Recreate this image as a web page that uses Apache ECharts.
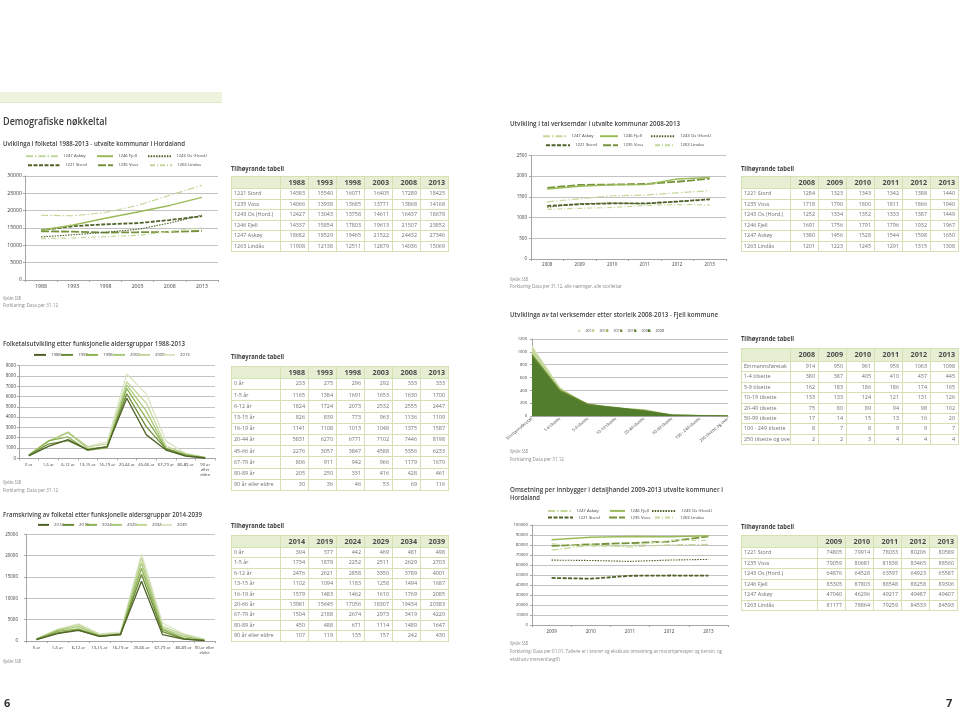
<!DOCTYPE html>
<html>
<head>
<meta charset="utf-8">
<script src="https://cdn.jsdelivr.net/npm/echarts@6.0.0/dist/echarts.min.js"></script>
<style>
html,body{margin:0;padding:0;background:#ffffff;}
#page{position:relative;width:960px;height:721px;overflow:hidden;background:#fff;}
#chart{position:absolute;left:0;top:0;width:960px;height:721px;}
.t{position:absolute;white-space:nowrap;transform-origin:0 50%;font-family:"Open Sans",sans-serif;}
table.tb{position:absolute;border-collapse:collapse;table-layout:fixed;font-family:"Open Sans",sans-serif;}
table.tb td, table.tb th{border:1px solid #d3e1b5;padding:0 3px 0 2px;overflow:hidden;white-space:nowrap;line-height:1;}
table.tb th{background:#e6eed3;font-weight:700;color:#4a4a4a;text-align:right;font-size:7.2px;}
table.tb td{background:#fff;color:#707070;text-align:right;font-size:5.4px;}
table.tb td.n{text-align:left;}
</style>
</head>
<body>
<div id="page"><div id="chart"></div></div>
<script>
// ---------------- DATA ----------------
// Folketal 1988-2013
const folkYears  = ['1988','1993','1998','2003','2008','2013'];
const folkStord  = [14383,15540,16071,16405,17289,18425];
const folkVoss   = [14066,13938,13685,13771,13868,14168];
const folkOs     = [12427,13043,13758,14611,16437,18678];
const folkFjell  = [14337,15854,17803,19613,21507,23852];
const folkAskoy  = [18682,18529,19465,21522,24432,27346];
const folkLindas = [11908,12138,12511,12879,14036,15069];

// Verksemder 2008-2013
const verkYears  = ['2008','2009','2010','2011','2012','2013'];
const verkStord  = [1284,1323,1343,1342,1388,1440];
const verkVoss   = [1718,1790,1800,1811,1866,1940];
const verkOs     = [1252,1334,1352,1333,1387,1449];
const verkFjell  = [1691,1756,1791,1796,1932,1967];
const verkAskoy  = [1380,1456,1528,1544,1598,1650];
const verkLindas = [1201,1223,1245,1291,1315,1308];

// Folketal etter aldersgrupper 1988-2013
const alderGrupper = ['0 år','1-5 år','6-12 år','13-15 år','16-19 år','20-44 år','45-66 år','67-79 år','80-89 år','90 år eller eldre'];
const alderYears = ['1988','1993','1998','2003','2008','2013'];
const alder1988 = [233,1165,1824,826,1141,5831,2276,806,205,30];
const alder1993 = [275,1384,1724,839,1108,6270,3057,911,250,36];
const alder1998 = [296,1691,2073,773,1013,6771,3847,942,331,46];
const alder2003 = [292,1653,2532,963,1048,7102,4588,966,416,53];
const alder2008 = [333,1630,2555,1136,1375,7446,5356,1179,428,69];
const alder2013 = [333,1700,2447,1109,1587,8198,6233,1670,461,116];

// Verksemder etter storleik, Fjell 2008-2013
const storleik = ['Einmannsføretak','1-4 tilsette','5-9 tilsette','10-19 tilsette','20-49 tilsette','50-99 tilsette','100 - 249 tilsette','250 tilsette og over'];
const storleikYears = ['2008','2009','2010','2011','2012','2013'];
const storleik2008 = [914,380,162,133,75,17,8,2];
const storleik2009 = [950,387,183,133,80,14,7,2];
const storleik2010 = [961,405,186,124,89,15,8,3];
const storleik2011 = [959,410,186,121,94,13,9,4];
const storleik2012 = [1063,437,174,131,98,16,9,4];
const storleik2013 = [1098,445,165,126,102,20,7,4];

// Framskriving 2014-2039
const framGrupper = ['0 år','1-5 år','6-12 år','13-15 år','16-19 år','20-66 år','67-79 år','80-89 år','90 år eller eldre'];
const framYears = ['2014','2019','2024','2029','2034','2039'];
const fram2014 = [304,1734,2476,1102,1579,13981,1504,450,107];
const fram2019 = [377,1878,2621,1094,1483,15645,2188,488,119];
const fram2024 = [442,2252,2858,1183,1462,17056,2674,671,135];
const fram2029 = [469,2511,3350,1258,1610,18307,2973,1114,157];
const fram2034 = [481,2629,3789,1494,1769,19434,3419,1489,242];
const fram2039 = [498,2703,4001,1687,2085,20383,4220,1647,430];

// Omsetning per innbygger 2009-2013 (as in the table)
const omsYears  = ['2009','2010','2011','2012','2013'];
const omsStord  = [74805,79914,78033,80206,80589];
const omsVoss   = [79059,80681,81838,83465,88560];
const omsOs     = [64876,64528,63597,64923,65587];
const omsFjell  = [85305,87803,88548,88258,89306];
const omsAskoy  = [47040,46296,49217,49487,49407];
const omsLindas = [81177,78864,79259,84533,84593];

const kommunar = ['1221 Stord','1235 Voss','1243 Os (Hord.)','1246 Fjell','1247 Askøy','1263 Lindås'];

// y-axis tick settings
const folkAxis = {max:30000, step:5000};
const verkAxis = {max:2500, step:500};
const alderAxis = {max:9000, step:1000};
const storleikAxis = {max:1200, step:200};
const framAxis = {max:25000, step:5000};
const omsAxis = {max:100000, step:10000};

// ---------------- LAYOUT / STYLE ----------------
const FONT = '"Open Sans", sans-serif';
const page = document.getElementById('page');

const kStyle = {
  '1247 Askøy':      {color:'#c4d79b', width:1.2, type:[7,2,1.5,2]},
  '1246 Fjell':      {color:'#9bbb59', width:1.4, type:'solid'},
  '1243 Os (Hord.)': {color:'#4f6228', width:1.1, type:[1.5,1.2]},
  '1221 Stord':      {color:'#4f6228', width:1.8, type:[4,1.5]},
  '1235 Voss':       {color:'#76923c', width:1.8, type:[8,2]},
  '1263 Lindås':     {color:'#c4d79b', width:1.2, type:[5,2,1,2]}
};
const yearShades = ['#4f6228','#6b8c35','#8db254','#aac97c','#c4d79b','#d9e5c1'];
const areaShades = {'2013':'#d7e4bd','2012':'#c3d69b','2011':'#9bbb59','2010':'#77933c','2009':'#648a30','2008':'#527d2c'};

const GRID_LINE = '#c3c3c3';
const AXIS_LINE = '#a6a6a6';
const LABEL = '#404040';
const plain = v => String(v);

const grids = [
  {left:25,  top:176,   width:193, height:104},
  {left:531, top:155.5, width:195, height:103.5},
  {left:19,  top:365.7, width:196, height:92.6},
  {left:532, top:339,   width:196, height:77},
  {left:26,  top:534.3, width:189, height:106.7},
  {left:532, top:525,   width:196, height:100}
];

function lab(fs, margin, extra) {
  return Object.assign({fontSize:fs, color:LABEL, fontFamily:FONT, margin:margin, interval:0}, extra || {});
}
function xAx(gi, data, extra) {
  return Object.assign({
    type:'category', gridIndex:gi, data:data, boundaryGap:true,
    axisLine:{lineStyle:{color:AXIS_LINE, width:1}},
    axisTick:{show:true, length:2, lineStyle:{color:AXIS_LINE}},
    axisLabel:lab(5.4, 4),
    splitLine:{show:false}
  }, extra || {});
}
function yAx(gi, ax, fs, margin) {
  return {
    type:'value', gridIndex:gi, min:0, max:ax.max, interval:ax.step,
    axisLine:{show:true, lineStyle:{color:AXIS_LINE, width:1}},
    axisTick:{show:true, length:2, lineStyle:{color:AXIS_LINE}},
    axisLabel:{fontSize:fs, color:LABEL, fontFamily:FONT, margin:margin, formatter:plain},
    splitLine:{show:true, lineStyle:{color:GRID_LINE, width:1}}
  };
}
function lineS(name, data, gi, st, z) {
  return {type:'line', name:name, data:data, xAxisIndex:gi, yAxisIndex:gi, symbol:'none', showSymbol:false,
    lineStyle:{color:st.color, width:st.width, type:st.type}, itemStyle:{color:st.color},
    z: z || 2, silent:true};
}
function leg(name, x, cy, w, fs, extra) {
  return Object.assign({data:[name], left:x - 3, top:cy - 4, itemWidth:w, itemHeight:8, itemGap:0, padding:0,
    selectedMode:false, itemStyle:{opacity:0},
    textStyle:{fontSize:fs, color:LABEL, fontFamily:FONT}}, extra || {});
}

const series = [];
const legends = [];

// Chart 1: folketal
[['1221 Stord',folkStord],['1235 Voss',folkVoss],['1243 Os (Hord.)',folkOs],['1246 Fjell',folkFjell],['1247 Askøy',folkAskoy],['1263 Lindås',folkLindas]]
  .forEach(([n,d]) => series.push(lineS(n, d, 0, kStyle[n])));
legends.push(leg('1247 Askøy',28,157,32,4.3), leg('1246 Fjell',99,157,16,4.3), leg('1243 Os (Hord.)',150,157,23,4.3),
             leg('1221 Stord',30,166,32,4.3), leg('1235 Voss',100,166,15,4.3), leg('1263 Lindås',152,166,22,4.3));

// Chart 2: verksemder
[['1221 Stord',verkStord],['1235 Voss',verkVoss],['1243 Os (Hord.)',verkOs],['1246 Fjell',verkFjell],['1247 Askøy',verkAskoy],['1263 Lindås',verkLindas]]
  .forEach(([n,d]) => series.push(lineS(n, d, 1, kStyle[n])));
legends.push(leg('1247 Askøy',545,137,23,4.3), leg('1246 Fjell',602,137,18,4.3), leg('1243 Os (Hord.)',653,137,24,4.3),
             leg('1221 Stord',548,146,24,4.3), leg('1235 Voss',605,146,15,4.3), leg('1263 Lindås',657,146,20,4.3));

// Chart 3: aldersgrupper 1988-2013
[alder1988,alder1993,alder1998,alder2003,alder2008,alder2013].forEach((d,i) => {
  series.push(lineS(alderYears[i], d, 2, {color:yearShades[i], width:1.3, type:'solid'}, 10 - i));
});
[36,63,88,115,140,165].forEach((x,i) => legends.push(leg(alderYears[i], x, 355.7, 12, 4.3)));

// Chart 4: storleik (area)
const storleikSeries = {'2008':storleik2008,'2009':storleik2009,'2010':storleik2010,'2011':storleik2011,'2012':storleik2012,'2013':storleik2013};
['2013','2012','2011','2010','2009','2008'].forEach((y,i) => {
  series.push({type:'line', name:'v' + y, data:storleikSeries[y], xAxisIndex:3, yAxisIndex:3, symbol:'none', showSymbol:false,
    lineStyle:{width:0.6, color:areaShades[y]}, itemStyle:{color:areaShades[y]},
    areaStyle:{color:areaShades[y], opacity:1}, z:2 + i, silent:true});
  legends.push(leg('v' + y, 581 + i*14, 330, 2.4, 3.8, {itemHeight:2.4, top:328.8, icon:'rect', itemStyle:{}, formatter:n => n.slice(1)}));
});

// Chart 5: framskriving
[fram2014,fram2019,fram2024,fram2029,fram2034,fram2039].forEach((d,i) => {
  series.push(lineS(framYears[i], d, 4, {color:yearShades[i], width:1.3, type:'solid'}, 10 - i));
});
[40,65,88,113,138,163].forEach((x,i) => legends.push(leg(framYears[i], x, 525.7, 11, 4.3)));

// Chart 6: omsetning. The published chart draws the Askøy and Stord rows with each other's legend entries.
[['1221 Stord',omsAskoy],['1235 Voss',omsVoss],['1243 Os (Hord.)',omsOs],['1246 Fjell',omsFjell],['1247 Askøy',omsStord],['1263 Lindås',omsLindas]]
  .forEach(([n,d]) => series.push(lineS(n, d, 5, kStyle[n])));
legends.push(leg('1247 Askøy',550,511.7,23,4.3), leg('1246 Fjell',612,511.7,15,4.3), leg('1243 Os (Hord.)',654,511.7,24,4.3),
             leg('1221 Stord',550,518.3,25,4.3), leg('1235 Voss',611,518.3,16,4.3), leg('1263 Lindås',657,518.3,20,4.3));

const wrap90 = v => v === '90 år eller eldre' ? '90 år\neller\neldre' : v;
const wrap90b = v => v === '90 år eller eldre' ? '90 år eller\neldre' : v;

const option = {
  animation:false,
  backgroundColor:'transparent',
  grid: grids.map(g => Object.assign({containLabel:false}, g)),
  xAxis: [
    xAx(0, folkYears, {axisLabel:lab(5.2, 4)}),
    xAx(1, verkYears, {axisLabel:lab(4.5, 3)}),
    xAx(2, alderGrupper, {axisLabel:lab(4.2, 4, {formatter:wrap90, lineHeight:5})}),
    xAx(3, storleik, {boundaryGap:false, axisTick:{show:false}, axisLabel:lab(4.1, 2, {rotate:40})}),
    xAx(4, framGrupper, {axisLabel:lab(4.2, 4, {formatter:wrap90b, lineHeight:5})}),
    xAx(5, omsYears, {axisLabel:lab(4.5, 4)})
  ],
  yAxis: [
    yAx(0, folkAxis, 5.2, 3),
    yAx(1, verkAxis, 4.5, 4),
    yAx(2, alderAxis, 4.5, 3),
    yAx(3, storleikAxis, 4.1, 5),
    yAx(4, framAxis, 4.5, 8),
    yAx(5, omsAxis, 4.3, 4)
  ],
  legend: legends,
  series: series
};

const chart = echarts.init(document.getElementById('chart'), null, {renderer:'canvas'});
chart.setOption(option);

// ---------------- TEXT ----------------
function placeText(txt, x, cy, w, size, weight, color) {
  const d = document.createElement('div');
  d.className = 't';
  d.textContent = txt;
  d.style.left = x + 'px';
  d.style.top = (cy - size * 0.65) + 'px';
  d.style.fontSize = size + 'px';
  d.style.lineHeight = (size * 1.3) + 'px';
  d.style.fontWeight = weight;
  d.style.color = color;
  page.appendChild(d);
  if (w) {
    const cur = d.getBoundingClientRect().width;
    if (cur > 0) d.style.transform = 'scaleX(' + (w / cur) + ')';
  }
}
const TITLE = '#3f3f3f', SRC = '#8a8a8a';
const texts = [
  ['Demografiske nøkkeltal', 3, 121, 104, 10, 600, '#3a3a3a'],
  ['Uviklinga i folketal 1988-2013 - utvalte kommunar i Hordaland', 3, 144.5, 182, 6.6, 600, TITLE],
  ['Tilhøyrande tabell', 231, 169, 53, 7, 700, TITLE],
  ['Kjelde: SSB', 3, 298, 18, 5, 400, SRC],
  ['Forklaring: Data per 31.12', 3, 305.5, 55, 5, 400, SRC],
  ['Utvikling i tal verksemdar i utvalte kommunar 2008-2013', 510, 124, 170, 6.6, 600, TITLE],
  ['Tilhøyrande tabell', 741, 169, 53, 7, 700, TITLE],
  ['Kjelde: SSB', 510, 279, 18, 5, 400, SRC],
  ['Forklaring Data per 31.12, alle næringar, alle storleikar', 510, 286.5, 112, 5, 400, SRC],
  ['Folketalsutvikling etter funksjonelle aldersgruppar 1988-2013', 3, 344.5, 182, 6.6, 600, TITLE],
  ['Tilhøyrande tabell', 231, 357, 53, 7, 700, TITLE],
  ['Kjelde: SSB', 3, 482, 18, 5, 400, SRC],
  ['Forklaring: Data per 31.12', 3, 490, 55, 5, 400, SRC],
  ['Utviklinga av tal verksemder etter storleik 2008-2013 - Fjell kommune', 510, 315.5, 208, 6.6, 600, TITLE],
  ['Tilhøyrande tabell', 741, 339, 53, 7, 700, TITLE],
  ['Kjelde: SSB', 510, 451, 18, 5, 400, SRC],
  ['Forklaring Data per 31.12', 510, 459, 54, 5, 400, SRC],
  ['Framskriving av folketal etter funksjonelle aldersgruppar 2014-2039', 3, 515, 199, 6.6, 600, TITLE],
  ['Tilhøyrande tabell', 231, 526, 53, 7, 700, TITLE],
  ['Kjelde: SSB', 3, 661, 18, 5, 400, SRC],
  ['Omsetning per innbygger i detaljhandel 2009-2013 utvalte kommuner i', 510, 490.5, 213, 6.6, 600, TITLE],
  ['Hordaland', 510, 498.5, 30, 6.6, 600, TITLE],
  ['Tilhøyrande tabell', 741, 527, 53, 7, 700, TITLE],
  ['Kjelde: SSB', 510, 643, 18, 5, 400, SRC],
  ['Forklaring: Data per 01.01. Tallene er i kroner og eksklusiv omsetning av motorkjøretøyer og bensin, og', 510, 651.5, 212, 5, 400, SRC],
  ['eksklusiv merverdiavgift', 510, 659, 50, 5, 400, SRC],
  ['6', 4, 703, null, 11, 700, '#333'],
  ['7', 946, 703, null, 11, 700, '#333']
];
texts.forEach(t => placeText.apply(null, t));

// top band
const band = document.createElement('div');
band.style.cssText = 'position:absolute;left:0;top:92px;width:222px;height:10px;background:#eef3dd;border-bottom:1px solid #dfe8c5;';
page.appendChild(band);

// ---------------- TABLES ----------------
function buildTable(left, top, firstW, colW, headH, rowH, headers, rowNames, rows) {
  const t = document.createElement('table');
  t.className = 'tb';
  t.style.left = left + 'px';
  t.style.top = top + 'px';
  t.style.width = (firstW + colW * headers.length) + 'px';
  let html = '<colgroup><col style="width:' + firstW + 'px">' + headers.map(() => '<col style="width:' + colW + 'px">').join('') + '</colgroup>';
  html += '<tr style="height:' + headH + 'px"><th></th>' + headers.map(h => '<th>' + h + '</th>').join('') + '</tr>';
  rowNames.forEach((n, i) => {
    html += '<tr style="height:' + rowH + 'px"><td class="n">' + n + '</td>' + rows[i].map(v => '<td>' + v + '</td>').join('') + '</tr>';
  });
  t.innerHTML = html;
  page.appendChild(t);
}
const transpose = cols => cols[0].map((_, i) => cols.map(c => c[i]));

buildTable(231, 176, 49, 28, 12, 10.5, folkYears, kommunar, [folkStord, folkVoss, folkOs, folkFjell, folkAskoy, folkLindas]);
buildTable(741, 176, 49, 28, 12, 10.5, verkYears, kommunar, [verkStord, verkVoss, verkOs, verkFjell, verkAskoy, verkLindas]);
buildTable(231, 366, 49, 28, 12, 11.2, alderYears, alderGrupper, transpose([alder1988, alder1993, alder1998, alder2003, alder2008, alder2013]));
buildTable(741, 348, 49, 28, 13, 10.4, storleikYears, storleik, transpose([storleik2008, storleik2009, storleik2010, storleik2011, storleik2012, storleik2013]));
buildTable(231, 535, 49, 28, 12, 10.4, framYears, framGrupper, transpose([fram2014, fram2019, fram2024, fram2029, fram2034, fram2039]));
buildTable(741, 535, 76, 28, 12, 10.5, omsYears, kommunar, [omsStord, omsVoss, omsOs, omsFjell, omsAskoy, omsLindas]);
</script>
</body>
</html>
